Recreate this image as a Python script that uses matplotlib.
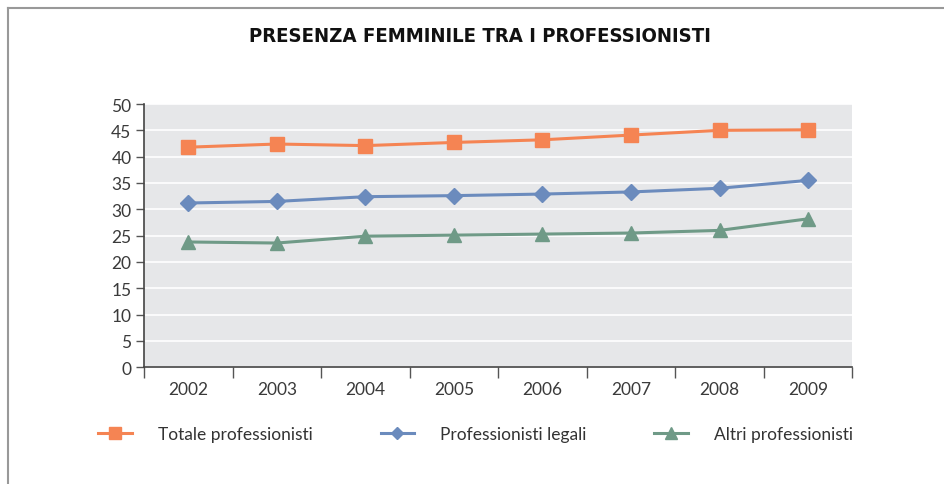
import matplotlib
matplotlib.use("Agg")
import matplotlib.pyplot as plt
import numpy as np
from matplotlib.lines import Line2D

# dati -----------------------------------------------------------
anni = ["2002", "2003", "2004", "2005", "2006", "2007", "2008", "2009"]
totale = [41.8, 42.4, 42.1, 42.7, 43.2, 44.1, 45.0, 45.1]
legali = [31.2, 31.5, 32.4, 32.6, 32.9, 33.3, 34.0, 35.5]
altri = [23.8, 23.6, 24.9, 25.1, 25.3, 25.5, 26.0, 28.2]
y_ticks = [0, 5, 10, 15, 20, 25, 30, 35, 40, 45, 50]

serie = [
    ("Totale professionisti", totale, "#f58453", "s", 10),
    ("Professionisti legali", legali, "#6b8bbd", "D", 8),
    ("Altri professionisti", altri, "#6f9a87", "^", 10),
]

plt.rcParams['font.family'] = ['Lato', 'DejaVu Sans']

fig = plt.figure(figsize=(9.44, 4.85), dpi=100)
ax = fig.add_axes([0.1525, 0.2406, 0.7505, 0.5429])
ax.set_facecolor("#e6e7e9")

x = np.arange(len(anni))
for nome, valori, colore, marker, ms in serie:
    ax.plot(x, valori, color=colore, lw=2.2, marker=marker, ms=ms,
            label=nome, zorder=3)

ax.set_xlim(-0.5, len(anni) - 0.5)
ax.set_ylim(0, 50)
ax.set_yticks(y_ticks)
ax.set_yticklabels([str(v) for v in y_ticks])
ax.yaxis.grid(True, color="white", lw=1.2)
ax.set_axisbelow(True)

ax.set_xticks(x)
ax.set_xticklabels(anni)
ax.set_xticks(np.arange(-0.5, len(anni)), minor=True)
ax.tick_params(axis="x", which="major", length=0, pad=10,
               labelsize=12.5, labelcolor="#3a3a3a")
ax.tick_params(axis="x", which="minor", length=8, width=1, color="#555555")
ax.tick_params(axis="y", length=6, width=1, color="#555555", pad=3,
               labelsize=12.5, labelcolor="#3a3a3a")

for s in ["top", "right"]:
    ax.spines[s].set_visible(False)
for s in ["left", "bottom"]:
    ax.spines[s].set_color("#444444")
    ax.spines[s].set_linewidth(1.2)

fig.text(0.508, 0.925, "PRESENZA FEMMINILE TRA I PROFESSIONISTI",
         ha="center", va="center", fontsize=14.6, fontweight="bold",
         fontstretch="condensed",
         family=["DejaVu Sans"], color="#111111")

leg = fig.legend(loc="center", bbox_to_anchor=(0.504, 0.103), ncol=3,
                 frameon=False, fontsize=12.5, handlelength=1.95,
                 columnspacing=3.9, handletextpad=1.5, markerscale=0.8)
for t in leg.get_texts():
    t.set_color("#333333")

# cornice
fig.add_artist(Line2D([8 / 944, 8 / 944], [0, 1 - 9 / 485],
                      transform=fig.transFigure, color="#999999", lw=1.5))
fig.add_artist(Line2D([8 / 944, 1], [1 - 9 / 485, 1 - 9 / 485],
                      transform=fig.transFigure, color="#999999", lw=1.5))

fig.savefig("out.png", dpi=100)
